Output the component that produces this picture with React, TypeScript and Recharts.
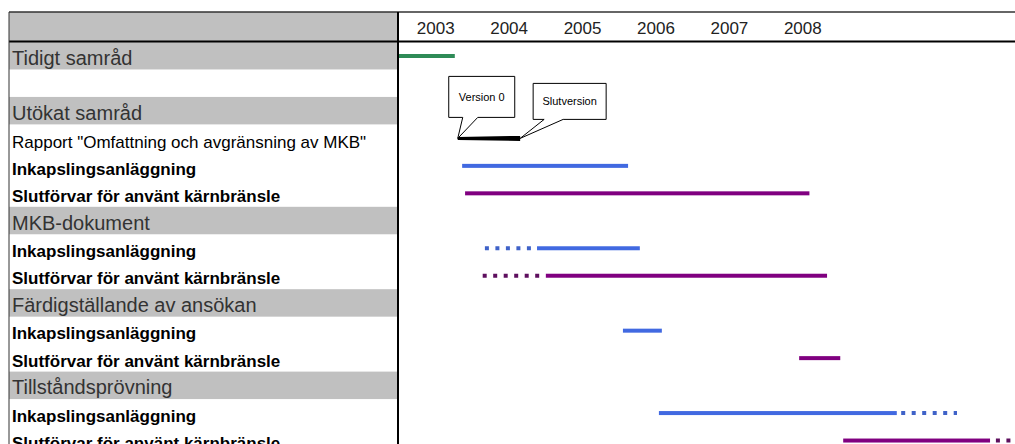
import { Bar, ComposedChart, XAxis, YAxis } from 'recharts'

const rowLabels = [
  'Tidigt samråd',
  '',
  'Utökat samråd',
  'Rapport "Omfattning och avgränsning av MKB"',
  'Inkapslingsanläggning',
  'Slutförvar för använt kärnbränsle',
  'MKB-dokument',
  'Inkapslingsanläggning',
  'Slutförvar för använt kärnbränsle',
  'Färdigställande av ansökan',
  'Inkapslingsanläggning',
  'Slutförvar för använt kärnbränsle',
  'Tillståndsprövning',
  'Inkapslingsanläggning',
  'Slutförvar för använt kärnbränsle',
]

// grey section headings in the label column
const headings = ['Tidigt samråd', 'Utökat samråd', 'MKB-dokument', 'Färdigställande av ansökan', 'Tillståndsprövning']

const years = ['2003', '2004', '2005', '2006', '2007', '2008']

// periods in decimal years, one entry per row
const solidSpans: ([number, number] | null)[] = [
  [2003.0, 2003.76],
  null,
  null,
  [2003.8, 2004.65],
  [2003.86, 2006.12],
  [2003.9, 2008.59],
  null,
  [2004.88, 2006.28],
  [2005.0, 2008.83],
  null,
  [2006.05, 2006.58],
  [2008.45, 2009.01],
  null,
  [2006.54, 2009.78],
  [2009.05, 2011.05],
]

const dottedBefore: ([number, number] | null)[] = [
  null, null, null, null, null, null, null,
  [2004.17, 2004.84],
  [2004.14, 2004.96],
  null, null, null, null, null, null,
]

const dottedAfter: ([number, number] | null)[] = [
  null, null, null, null, null, null, null, null, null, null, null, null, null,
  [2009.84, 2010.6],
  [2011.13, 2011.36],
]

const milestones = ['Version 0', 'Slutversion']

const FONT = '"Liberation Sans", Arial, sans-serif'

const data = rowLabels.map((label, i) => ({
  row: i,
  label,
  solid: solidSpans[i],
  before: dottedBefore[i],
  after: dottedAfter[i],
}))

function colorFor(label: string, dots = false) {
  if (label.startsWith('Inkap')) return dots ? '#3f62c8' : '#4169e1'
  if (label.startsWith('Slut')) return dots ? '#5e0f5e' : '#800080'
  if (label.startsWith('Rapport')) return '#000'
  return '#2e8b57'
}

function Callout({ tipX, tipY, left, top, w, h, baseL, baseR, text }: any) {
  const bottom = top + h
  const d = `M${left},${top} H${left + w} V${bottom} H${baseR} L${tipX},${tipY} L${baseL},${bottom} H${left} Z`
  return (
    <g>
      <path d={d} fill="#fff" stroke="#000" strokeWidth={1} />
      <text x={left + w / 2} y={top + h / 2 + 4} textAnchor="middle" fontSize={11} fontFamily={FONT} fill="#000">
        {text}
      </text>
    </g>
  )
}

function RapportBar({ x, y, width, height }: any) {
  const cy = y + height / 2
  const x2 = x + width
  return (
    <g>
      <path d={`M${x},${cy - 1.5} L${x2},${cy - 2.5} L${x2},${cy + 2.5} L${x},${cy + 1.5} Z`} fill="#000" />
      <Callout tipX={x} tipY={cy} left={x - 9} top={cy - 62} w={66} h={41} baseL={x + 5} baseR={x + 20} text={milestones[0]} />
      <Callout tipX={x2} tipY={cy} left={x2 + 13} top={cy - 55} w={73} h={36} baseL={x2 + 24} baseR={x2 + 43} text={milestones[1]} />
    </g>
  )
}

function SolidShape(props: any) {
  const { x, y, width, height, payload } = props
  if (!payload.solid || !Number.isFinite(width)) return null
  if (payload.label.startsWith('Rapport')) return <RapportBar {...props} />
  return <rect x={x} y={y} width={width} height={height} fill={colorFor(payload.label)} />
}

function dotted(key: 'before' | 'after') {
  return (props: any) => {
    const { x, y, width, height, payload } = props
    if (!payload[key] || !Number.isFinite(width)) return null
    const cy = y + height / 2
    return (
      <line x1={x} x2={x + width} y1={cy} y2={cy} stroke={colorFor(payload.label, true)}
        strokeWidth={height} strokeDasharray="4 6.5" />
    )
  }
}

function RowTick({ x, y, payload }: any) {
  const label = rowLabels[payload.value] ?? ''
  const half = payload.offset ?? 13.7
  const isHeading = headings.includes(label)
  const isRapport = label.startsWith('Rapport')
  return (
    <g>
      {isHeading && <rect x={x - 390} y={y - half} width={388} height={half * 2} fill="#c0c0c0" />}
      <text
        x={x - 387}
        y={y + (isHeading ? 9 : isRapport ? 10 : 9)}
        fontSize={isHeading ? 20 : 17}
        fontWeight={isHeading || isRapport ? 'normal' : 'bold'}
        fontFamily={FONT}
        fill={isHeading ? '#333' : '#000'}
      >
        {label}
      </text>
    </g>
  )
}

function YearTick({ x, y, payload }: any) {
  return (
    <text x={x} y={y} textAnchor="middle" fontSize={17} fontFamily={FONT} fill="#222">
      {years.find((yr) => Number(yr) === Math.floor(payload.value))}
    </text>
  )
}

export default function App() {
  return (
    <div style={{ position: 'absolute', left: 0, top: 0, width: 1015, height: 444, overflow: 'hidden', background: '#fff' }}>
      <ComposedChart
        width={1015}
        height={460}
        data={data}
        layout="vertical"
        margin={{ top: 12, right: 0, bottom: 6, left: 0 }}
        barGap={-4}
        barCategoryGap={0}
      >
        <XAxis
          type="number"
          orientation="top"
          domain={[2003, 2011.39]}
          allowDataOverflow
          ticks={years.map((y) => Number(y) + 0.5)}
          tick={<YearTick />}
          axisLine={false}
          tickLine={false}
          tickSize={0}
          tickMargin={8}
          height={30}
        />
        <YAxis
          type="category"
          dataKey="row"
          width={399}
          interval={0}
          axisLine={false}
          tickLine={false}
          tickSize={0}
          tickMargin={0}
          tick={<RowTick />}
        />
        <Bar dataKey="solid" barSize={4} isAnimationActive={false} shape={SolidShape} />
        <Bar dataKey="before" barSize={4} isAnimationActive={false} shape={dotted('before')} />
        <Bar dataKey="after" barSize={4} isAnimationActive={false} shape={dotted('after')} />
      </ComposedChart>
      <svg width={1015} height={444} style={{ position: 'absolute', left: 0, top: 0, pointerEvents: 'none' }}>
        <rect x={9} y={12} width={388} height={29} fill="#c0c0c0" />
        <line x1={9} x2={1015} y1={12} y2={12} stroke="#333" strokeWidth={1.5} />
        <line x1={9} x2={1015} y1={41.5} y2={41.5} stroke="#000" strokeWidth={2} />
        <line x1={398} x2={398} y1={12} y2={444} stroke="#000" strokeWidth={2} />
        <line x1={9} x2={9} y1={12} y2={444} stroke="#333" strokeWidth={1} />
      </svg>
    </div>
  )
}
